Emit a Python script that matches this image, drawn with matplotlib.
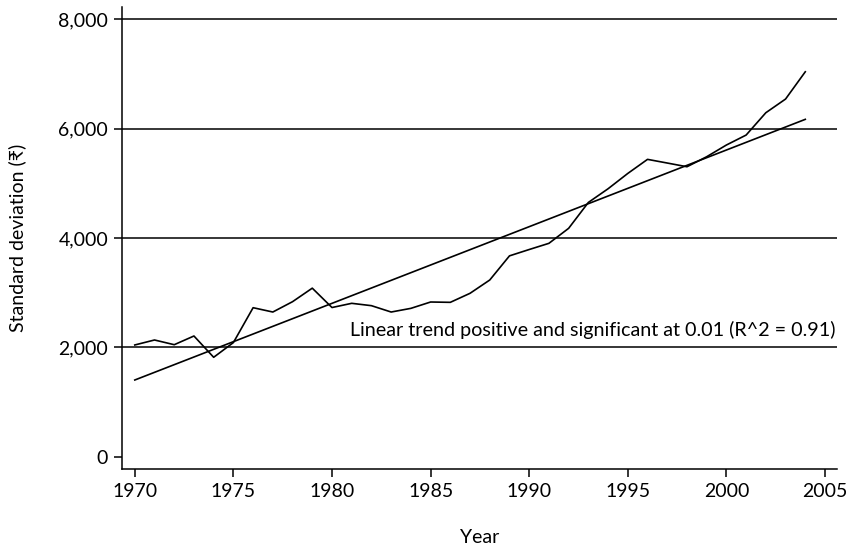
import numpy as np
import matplotlib
matplotlib.use('Agg')
import matplotlib.pyplot as plt
from matplotlib.ticker import FuncFormatter

# values
years = list(range(1970, 2005))
std_dev = [2046, 2137, 2051, 2210, 1821, 2090, 2727, 2648, 2837, 3084,
           2730, 2807, 2764, 2648, 2715, 2831, 2825, 2990, 3233, 3674,
           3790, 3903, 4177, 4650, 4900, 5180, 5437, 5370, 5302, 5485,
           5699, 5881, 6289, 6539, 7037]
trend_years = [1970, 2004]
trend_vals = [1406, 6168]

note = 'Linear trend positive and significant at 0.01 (R^2 = 0.91)'

plt.rcParams['font.family'] = ['Lato', 'DejaVu Sans']

fig = plt.figure(figsize=(8.47, 5.49), dpi=100)
ax = fig.add_axes([0.144, 0.1457, 0.844, 0.8415])

for v in [2000, 4000, 6000, 8000]:
    ax.axhline(v, color='black', lw=1.1, zorder=1)

ax.plot(years, std_dev, color='black', lw=1.2, zorder=3)
ax.plot(trend_years, trend_vals, color='black', lw=1.2, zorder=3)

ax.text(1993.2, 2150, note, fontsize=14.2, ha='center', va='bottom')

ax.set_xlim(1969.35, 2005.6)
ax.set_ylim(-220, 8220)
ax.set_xticks(range(1970, 2006, 5))
ax.set_yticks(range(0, 8001, 2000))
ax.yaxis.set_major_formatter(FuncFormatter(lambda v, p: f'{int(v):,}'))

for s in ['top', 'right']:
    ax.spines[s].set_visible(False)
for s in ['left', 'bottom']:
    ax.spines[s].set_linewidth(1.1)
ax.tick_params(direction='out', length=6, width=1.1, labelsize=14, pad=4)

ax.set_xlabel('Year', fontsize=14, labelpad=21)
ax.set_ylabel('Standard deviation (₹)', fontsize=14, labelpad=23,
              family=['Lato', 'Noto Sans', 'DejaVu Sans'])

fig.savefig('out.png', dpi=100)
